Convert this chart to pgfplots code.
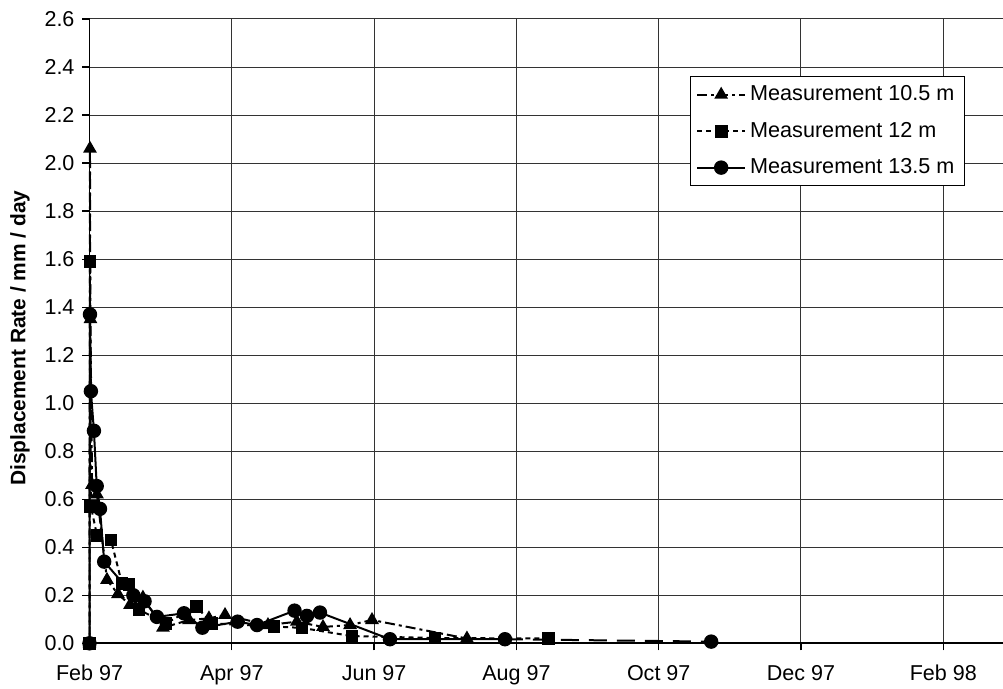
\documentclass[border=0pt]{standalone}
\usepackage{fontspec}
\setmainfont{Liberation Sans}
\usepackage{pgfplots}
\pgfplotsset{compat=1.18}
% x values: days after 1 Feb 1997
\begin{document}
\begin{tikzpicture}
\useasboundingbox (-44.75bp,-22.85bp) rectangle (456.75bp,321.65bp);
\begin{axis}[
  at={(0,0)}, anchor=south west,
  width=456.75bp, height=312.15bp, scale only axis,
  xmin=0, xmax=391.6, ymin=0, ymax=2.6,
  axis x line*=bottom, axis y line*=left,
  axis line style={line width=0.9bp, black},
  xtick={0,61,122,183,244,305,366},
  xticklabels={Feb 97,Apr 97,Jun 97,Aug 97,Oct 97,Dec 97,Feb 98},
  ytick={0,0.2,0.4,0.6,0.8,1.0,1.2,1.4,1.6,1.8,2.0,2.2,2.4,2.6},
  yticklabel style={xshift=-0.5bp, /pgf/number format/.cd, fixed, fixed zerofill, precision=1, assume math mode=true},
  xticklabel style={yshift=-4bp},
  tick align=outside, major tick length=3.5bp,
  tick style={line width=0.6bp, black},
  grid=major,
  major grid style={line width=0.5bp, black!80},
  tick label style={font=\fontsize{10.8}{13}\selectfont},
  every axis y label/.style={at={(axis description cs:-0.0761,0.489)}, rotate=90, anchor=center},
  ylabel={\fontsize{10.5}{13}\selectfont\bfseries Displacement Rate / mm / day},
  legend style={at={(0.657,0.9087)}, anchor=north west, draw=black, line width=0.5bp,
    font=\fontsize{10.85}{13}\selectfont, inner xsep=3bp, inner ysep=2.6bp,
    row sep=5.2bp},
  legend cell align=left,
  legend image code/.code={\draw[mark repeat=2,mark phase=2,#1] plot coordinates {(0bp,0bp) (12bp,0bp) (24bp,0bp)};},
  clip=false,
]
% 10.5 m
\addplot[black, line width=1bp, dash pattern=on 5bp off 2bp on 1.5bp off 2bp,
  mark=triangle*, mark size=3bp, mark options={solid}] coordinates {
  (0,0) (0.2,2.06) (0.4,1.35) (1.1,0.66) (3.2,0.62) (7.5,0.264) (12.2,0.205)
  (17.4,0.16) (22.9,0.19) (31.5,0.065) (42.7,0.097) (51.2,0.104) (58.1,0.118)
  (76.5,0.076) (88.9,0.09) (100.1,0.068) (111.7,0.076) (121.1,0.097) (161.8,0.02)
};
\addlegendentry{Measurement 10.5 m}
% 12 m
\addplot[black, line width=1bp, dash pattern=on 2.5bp off 2bp,
  mark=square*, mark size=2.7bp, mark options={solid}] coordinates {
  (0,0) (0.2,1.59) (0.6,0.57) (3.2,0.45) (9.2,0.43) (13.9,0.25) (16.9,0.245)
  (21.2,0.14) (32.8,0.083) (45.7,0.153) (52.5,0.083) (79.1,0.07) (91.1,0.064)
  (112.5,0.03) (148.1,0.022) (196.6,0.02)
};
\addlegendentry{Measurement 12 m}
% 13.5 m
\addplot[black, line width=1bp, mark=*, mark size=3.1bp] coordinates {
  (0,0) (0.2,1.37) (0.6,1.05) (1.9,0.885) (3.1,0.655) (4.5,0.56) (6.3,0.34)
  (18.8,0.20) (23.6,0.175) (28.9,0.11) (40.5,0.125) (48.4,0.065) (63.5,0.09)
  (71.8,0.076) (87.9,0.136) (93.2,0.114) (98.8,0.128) (128.8,0.017) (178.1,0.017)
};
\addlegendentry{Measurement 13.5 m}
% last reading of the 13.5 m gauge, joined with a dashed segment
\addplot[black, line width=1bp, dash pattern=on 9bp off 5bp, mark=*, mark size=3.1bp,
  mark indices={2}, mark options={solid}, forget plot] coordinates {
  (178.1,0.017) (266.5,0.007)
};
\end{axis}
\end{tikzpicture}
\end{document}
